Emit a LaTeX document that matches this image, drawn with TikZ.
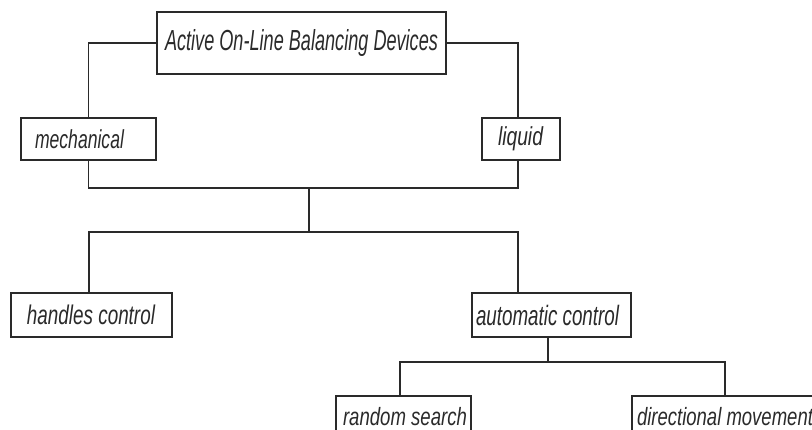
\documentclass[tikz,border=0pt]{standalone}
\usepackage{fontspec}
\setmainfont{Liberation Sans}
\usepackage{graphicx}
\definecolor{linec}{HTML}{2A2A2A}
\newcommand\isotext[3]{\resizebox{#1}{\height}{\fontsize{#2}{#2}\selectfont\itshape #3}}
\newcommand\boxtext[5]{\makebox[#1][l]{\hspace{#2}\isotext{#3}{#4}{#5}}}
\tikzset{
  box/.style={draw=linec, line width=1.1pt, inner xsep=0pt, inner ysep=0pt, text=linec, anchor=center},
  conn/.style={draw=linec, line width=1.1pt},
}
\begin{document}
\begin{tikzpicture}[x=1pt,y=-1pt]
\useasboundingbox (0,0) rectangle (812,430);
\clip (0,0) rectangle (812,430);
\node[box, minimum height=62pt] (top) at (301.5,43) {\boxtext{289pt}{8pt}{273pt}{29}{Active On-Line Balancing Devices}};
\node[box, minimum height=42pt] (mech) at (88.5,139) {\boxtext{135pt}{14pt}{89pt}{26}{mechanical}};
\node[box, minimum height=42pt] (liq) at (521,139) {\boxtext{78pt}{16pt}{45pt}{26}{liquid}};
\node[box, minimum height=44pt] (hand) at (91.5,315) {\boxtext{161pt}{16pt}{128pt}{27}{handles control}};
\node[box, minimum height=44pt] (auto) at (551.5,315) {\boxtext{159pt}{4pt}{143pt}{28}{automatic control}};
\node[box, minimum height=44pt] (rand) at (403.5,418) {\raisebox{4pt}{\boxtext{135pt}{7pt}{124pt}{25}{random search}}};
\node[box, minimum height=44pt] (dir) at (726.5,418) {\raisebox{4pt}{\boxtext{189pt}{5pt}{176pt}{25}{directional movement}}};
\coordinate (j1) at (309,188);
\coordinate (j2) at (309,232);
\coordinate (j3) at (548,362);
\draw[conn] (top.west) -| (mech.north);
\draw[conn] (top.east) -| ([xshift=-3pt]liq.north);
\draw[conn] (mech.south) |- (j1) -| ([xshift=-3pt]liq.south);
\draw[conn] (j1) -- (j2);
\draw[conn] ([xshift=-2.5pt]hand.north) |- (j2) -| ([xshift=-33.5pt]auto.north);
\draw[conn] ([xshift=-3.5pt]auto.south) -- (j3);
\draw[conn] ([xshift=-3.5pt]rand.north) |- (j3) -| ([xshift=-1.5pt]dir.north);
\end{tikzpicture}
\end{document}
